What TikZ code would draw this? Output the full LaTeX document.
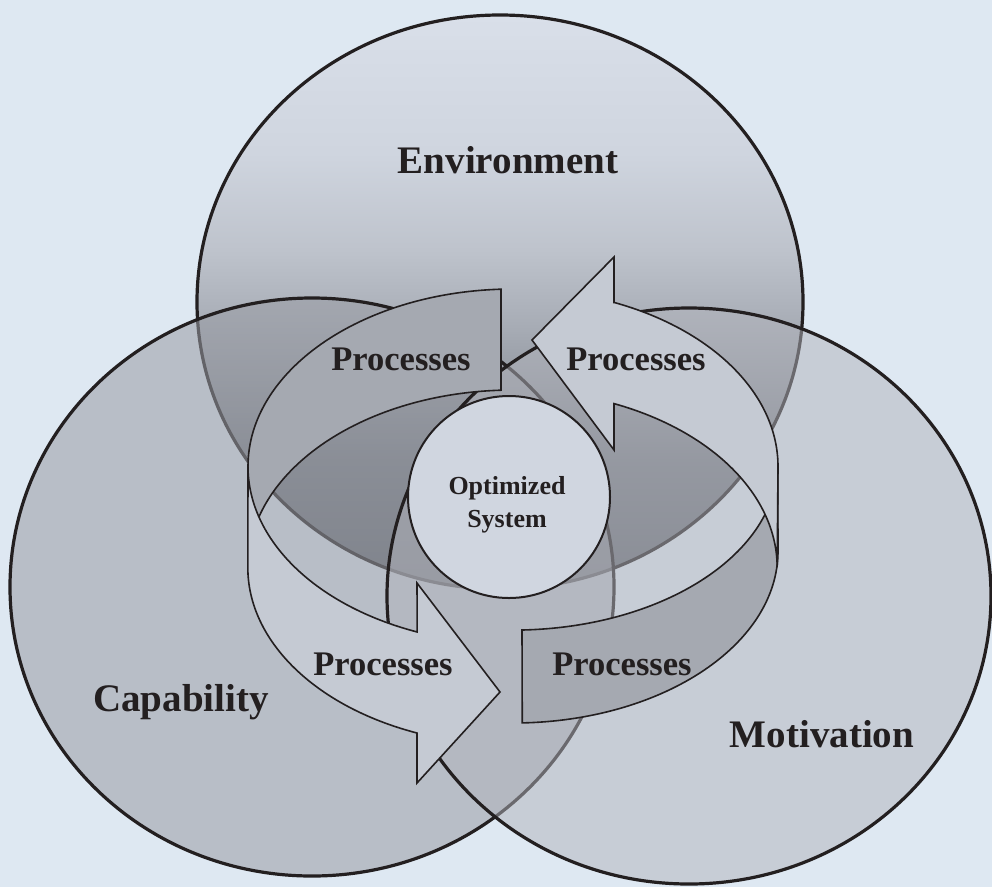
\documentclass[tikz,border=0pt]{standalone}
\usepackage{fontspec}
\setmainfont{Liberation Serif}
\definecolor{bgc}{RGB}{222,232,242}
\definecolor{envA}{RGB}{217,223,233}
\definecolor{envB}{RGB}{207,213,223}
\definecolor{envC}{RGB}{190,195,204}
\definecolor{envD}{RGB}{166,171,180}
\definecolor{envE}{RGB}{120,125,134}
\definecolor{envF}{RGB}{98,103,112}
\definecolor{capc}{RGB}{153,156,164}
\definecolor{motc}{RGB}{178,180,188}
\definecolor{ink}{RGB}{35,31,32}
\definecolor{arrlight}{RGB}{197,202,211}
\definecolor{arrdark}{RGB}{165,169,177}
\definecolor{optc}{RGB}{208,214,224}
\pgfdeclareverticalshading{envshade}{100bp}{%
  color(0bp)=(envF); color(25bp)=(envF); color(36bp)=(envE);
  color(47.6bp)=(envD); color(54.5bp)=(envC); color(63bp)=(envB);
  color(75bp)=(envA); color(100bp)=(envA)}
\begin{document}
\begin{tikzpicture}[x=1pt,y=-1pt,
  venn/.style={draw=ink, line width=3.2pt},
  band/.style={draw=ink, line width=1.6pt, line join=miter},
  bigl/.style={font=\fontsize{39}{47}\selectfont\bfseries, text=ink, inner sep=0pt, anchor=base},
  procl/.style={font=\fontsize{34.5}{41}\selectfont\bfseries, text=ink, inner sep=0pt, anchor=base},
  optl/.style={font=\fontsize{26}{32}\selectfont\bfseries, text=ink, inner sep=0pt, anchor=base},
  ring/.style={x radius=265pt, y radius=177.5pt}
]
\useasboundingbox (0,0) rectangle (992,887);
\fill[bgc] (0,0) rectangle (992,887);
\begin{scope}
\clip (0,0) rectangle (992,887);
% Venn ellipses
\path[venn, shading=envshade]
  (500,302) ellipse [x radius=303pt, y radius=287pt];
\path[venn, fill=capc, fill opacity=0.55]
  (312,587) ellipse [x radius=302pt, y radius=289pt];
\path[venn, fill=motc, fill opacity=0.5]
  (689,596) ellipse [x radius=302pt, y radius=288pt];
\end{scope}
% Arrow A (top-left, back)
\path[band, fill=arrdark] (248,466.5)
  arc[start angle=180, end angle=92.6, ring] -- ++(0,101)
  arc[start angle=92.6, end angle=180, ring] -- cycle;
% Arrow B (bottom-left, front, arrowhead)
\path[band, fill=arrlight] (248,466.5)
  arc[start angle=180, end angle=248.8, ring]
  -- (417,583) -- (500,692) -- (417,783) -- (417,733)
  arc[start angle=248.8, end angle=180, ring] -- cycle;
% Arrow D (bottom-right, flat end)
\path[band, fill=arrdark] (522,630)
  arc[start angle=-88, end angle=0, x radius=265pt, y radius=167pt]
  -- (778,551)
  arc[start angle=0, end angle=-88, x radius=265pt, y radius=172pt] -- cycle;
% Arrow C (top-right, arrowhead)
\path[band, fill=arrlight] (614,302.6) -- (614,257) -- (532,340) -- (614,450) -- (614,403.6)
  arc[start angle=67.4, end angle=0, ring] -- (778,466.5)
  arc[start angle=0, end angle=67.4, ring] -- cycle;
% Central circle
\node[circle, draw=ink, line width=2pt, fill=optc, minimum size=202pt, inner sep=0pt] (opt) at (509,497) {};
% Labels
\node[bigl] (envl) at (508,173) {Environment};
\node[bigl] (capl) at (181,711) {Capability};
\node[bigl] (motl) at (822,747) {Motivation};
\node[procl] (pa) at (401,370) {Processes};
\node[procl] (pc) at (636,370) {Processes};
\node[procl] (pb) at (383,675) {Processes};
\node[procl] (pd) at (622,675) {Processes};
\node[optl] (o1) at (507,494) {Optimized};
\node[optl] (o2) at (507,527) {System};
\end{tikzpicture}
\end{document}
